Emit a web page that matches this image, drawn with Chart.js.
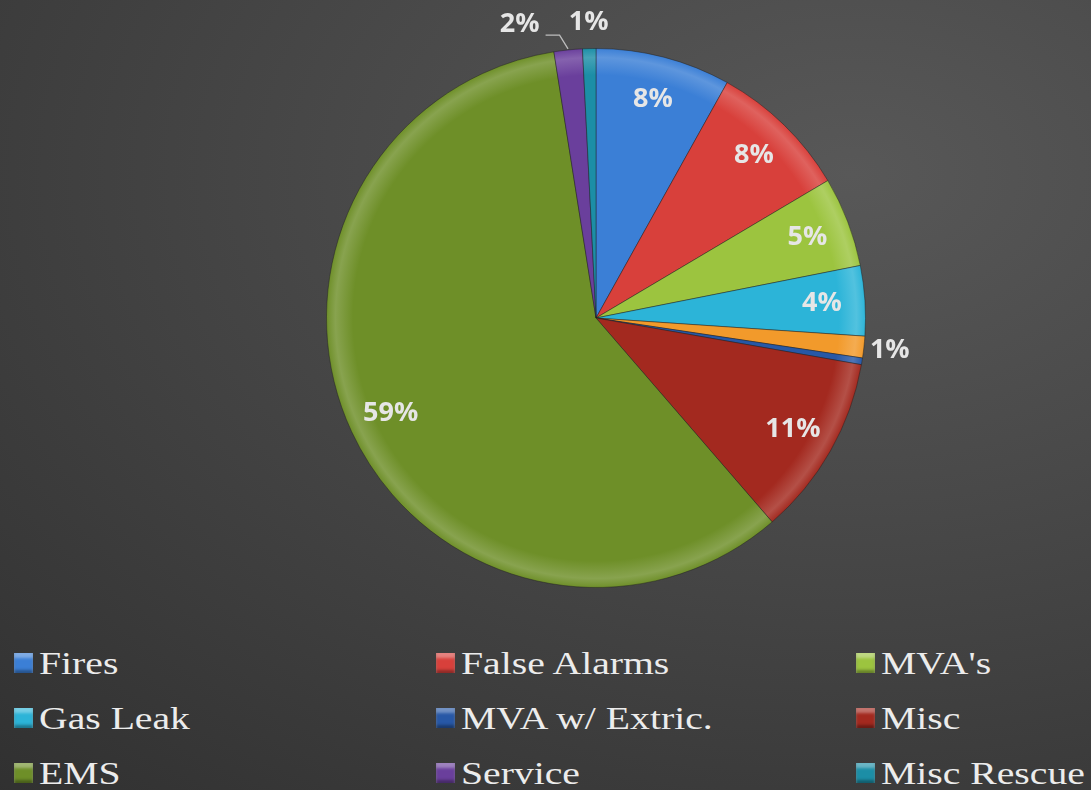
<!DOCTYPE html>
<html>
<head>
<meta charset="utf-8">
<script src="https://cdn.jsdelivr.net/npm/chart.js@4.4.0/dist/chart.umd.min.js"></script>
<style>
  html, body { margin: 0; padding: 0; }
  body {
    width: 1091px; height: 790px; overflow: hidden; position: relative;
    background: radial-gradient(ellipse 120% 110% at 78% 22%, #585858 0%, #484848 40%, #2f2f2f 100%);
  }
  #wrap { position: absolute; left: 0; top: 0; width: 1091px; height: 630px; }
  #legend { position: absolute; left: 0; top: 643px; width: 1091px; }
  .item {
    position: absolute; font-family: "Liberation Serif", "Times New Roman", serif;
    font-size: 32px; color: #ececec; white-space: nowrap; line-height: 40px;
  }
  .item .txt { display: inline-block; transform: scaleX(1.24); transform-origin: left center; }
  .box {
    display: inline-block; width: 19px; height: 20px; margin-right: 6px;
    vertical-align: 1px; box-shadow: inset 0 5px 3px rgba(255,255,255,0.35), inset 0 -3px 3px rgba(0,0,0,0.35);
  }
</style>
</head>
<body>
<div id="wrap"><canvas id="pie" width="1091" height="630"></canvas></div>
<div id="legend"></div>
<script>
// Call types (clockwise from top)
var categories = ['Fires', 'False Alarms', "MVA's", 'Gas Leak', 'Hazmat', 'MVA w/ Extric.', 'Misc', 'EMS', 'Service', 'Misc Rescue'];
// share of calls, percent
var shares = [8.1, 8.4, 5.4, 4.2, 1.3, 0.4, 10.9, 58.9, 1.7, 0.8];
var colors = ['#3b7fd6', '#d8403b', '#9cc43f', '#2cb4d8', '#f29a2b', '#2758a6', '#a3291f', '#6e8f28', '#6a3f9c', '#1c8ea6'];
// entries shown in the legend (the orange one is cut off in the original)
var legendItems = ['Fires', 'False Alarms', "MVA's", 'Gas Leak', 'MVA w/ Extric.', 'Misc', 'EMS', 'Service', 'Misc Rescue'];

var total = shares.reduce(function (a, b) { return a + b; }, 0);

function pctOf(i) { return Math.round(shares[i] / total * 100); }

function lighten(hex, t) {
    var n = parseInt(hex.slice(1), 16);
    var r = (n >> 16) & 255, g = (n >> 8) & 255, b = n & 255;
    r = Math.round(r + (255 - r) * t); g = Math.round(g + (255 - g) * t); b = Math.round(b + (255 - b) * t);
    return 'rgb(' + r + ',' + g + ',' + b + ')';
}

// draws percentage labels like the Excel data labels
var pctLabels = {
    id: 'pctLabels',
    afterDatasetsDraw: function (chart) {
        var ctx = chart.ctx;
        var arcs = chart.getDatasetMeta(0).data;
        ctx.save();
        ctx.font = 'bold 27px "Open Sans", "DejaVu Sans", sans-serif';
        ctx.fillStyle = '#e6e6e6';
        ctx.textAlign = 'center';
        ctx.textBaseline = 'middle';
        arcs.forEach(function (arc, i) {
            var pct = pctOf(i);
            if (pct === 0) return;
            var mid = (arc.startAngle + arc.endAngle) / 2;
            var r = arc.outerRadius;
            var x, y;
            if (pct >= 3) {
                x = arc.x + Math.cos(mid) * r * 0.84;
                y = arc.y + Math.sin(mid) * r * 0.84;
                ctx.fillText(pct + '%', x, y);
                return;
            }
            x = arc.x + Math.cos(mid) * (r + 26);
            y = arc.y + Math.sin(mid) * (r + 26);
            // a labelled small slice right after this one: move this label left, add a leader line
            var next = arcs[i + 1];
            if (next && pctOf(i + 1) > 0 && pctOf(i + 1) < 3) {
                var nmid = (next.startAngle + next.endAngle) / 2;
                var nx = next.x + Math.cos(nmid) * (r + 26);
                if (nx - x < 60) {
                    var lx = nx - 69;
                    var ex = arc.x + Math.cos(mid) * (r + 1);
                    var ey = arc.y + Math.sin(mid) * (r + 1);
                    ctx.strokeStyle = '#bdbdbd';
                    ctx.lineWidth = 1.3;
                    ctx.beginPath();
                    ctx.moveTo(lx + 26, y + 11);
                    ctx.lineTo(lx + 40, y + 11);
                    ctx.lineTo(ex, ey);
                    ctx.stroke();
                    x = lx;
                }
            }
            ctx.fillText(pct + '%', x, y);
        });
        ctx.restore();
    }
};

var ctx = document.getElementById('pie').getContext('2d');
var chart = new Chart(ctx, {
    type: 'pie',
    data: {
        labels: categories,
        datasets: [{
            data: shares,
            backgroundColor: function (c) {
                var base = colors[c.dataIndex];
                var a = c.chart.chartArea;
                if (!a) return base;
                var cx = (a.left + a.right) / 2, cy = (a.top + a.bottom) / 2;
                var r = Math.min(a.right - a.left, a.bottom - a.top) / 2;
                var g = c.chart.ctx.createRadialGradient(cx, cy, 0, cx, cy, r);
                g.addColorStop(0, base);
                g.addColorStop(0.9, base);
                g.addColorStop(0.965, lighten(base, 0.18));
                g.addColorStop(1, base);
                return g;
            },
            borderColor: 'rgba(30,30,30,0.45)',
            borderWidth: 1
        }]
    },
    options: {
        responsive: false,
        animation: false,
        layout: { padding: { left: 326, right: 225, top: 48, bottom: 42 } },
        plugins: {
            legend: { display: false },
            tooltip: { enabled: false }
        }
    },
    plugins: [pctLabels]
});

// legend in a 3-column grid, like the original
var legend = document.getElementById('legend');
var colX = [14, 436, 856];
legendItems.forEach(function (name, k) {
    var idx = categories.indexOf(name);
    var el = document.createElement('div');
    el.className = 'item';
    el.style.left = colX[k % 3] + 'px';
    el.style.top = (Math.floor(k / 3) * 55) + 'px';
    el.innerHTML = '<span class="box" style="background:' + colors[idx] + '"></span><span class="txt">' + name + '</span>';
    legend.appendChild(el);
});
</script>
</body>
</html>
